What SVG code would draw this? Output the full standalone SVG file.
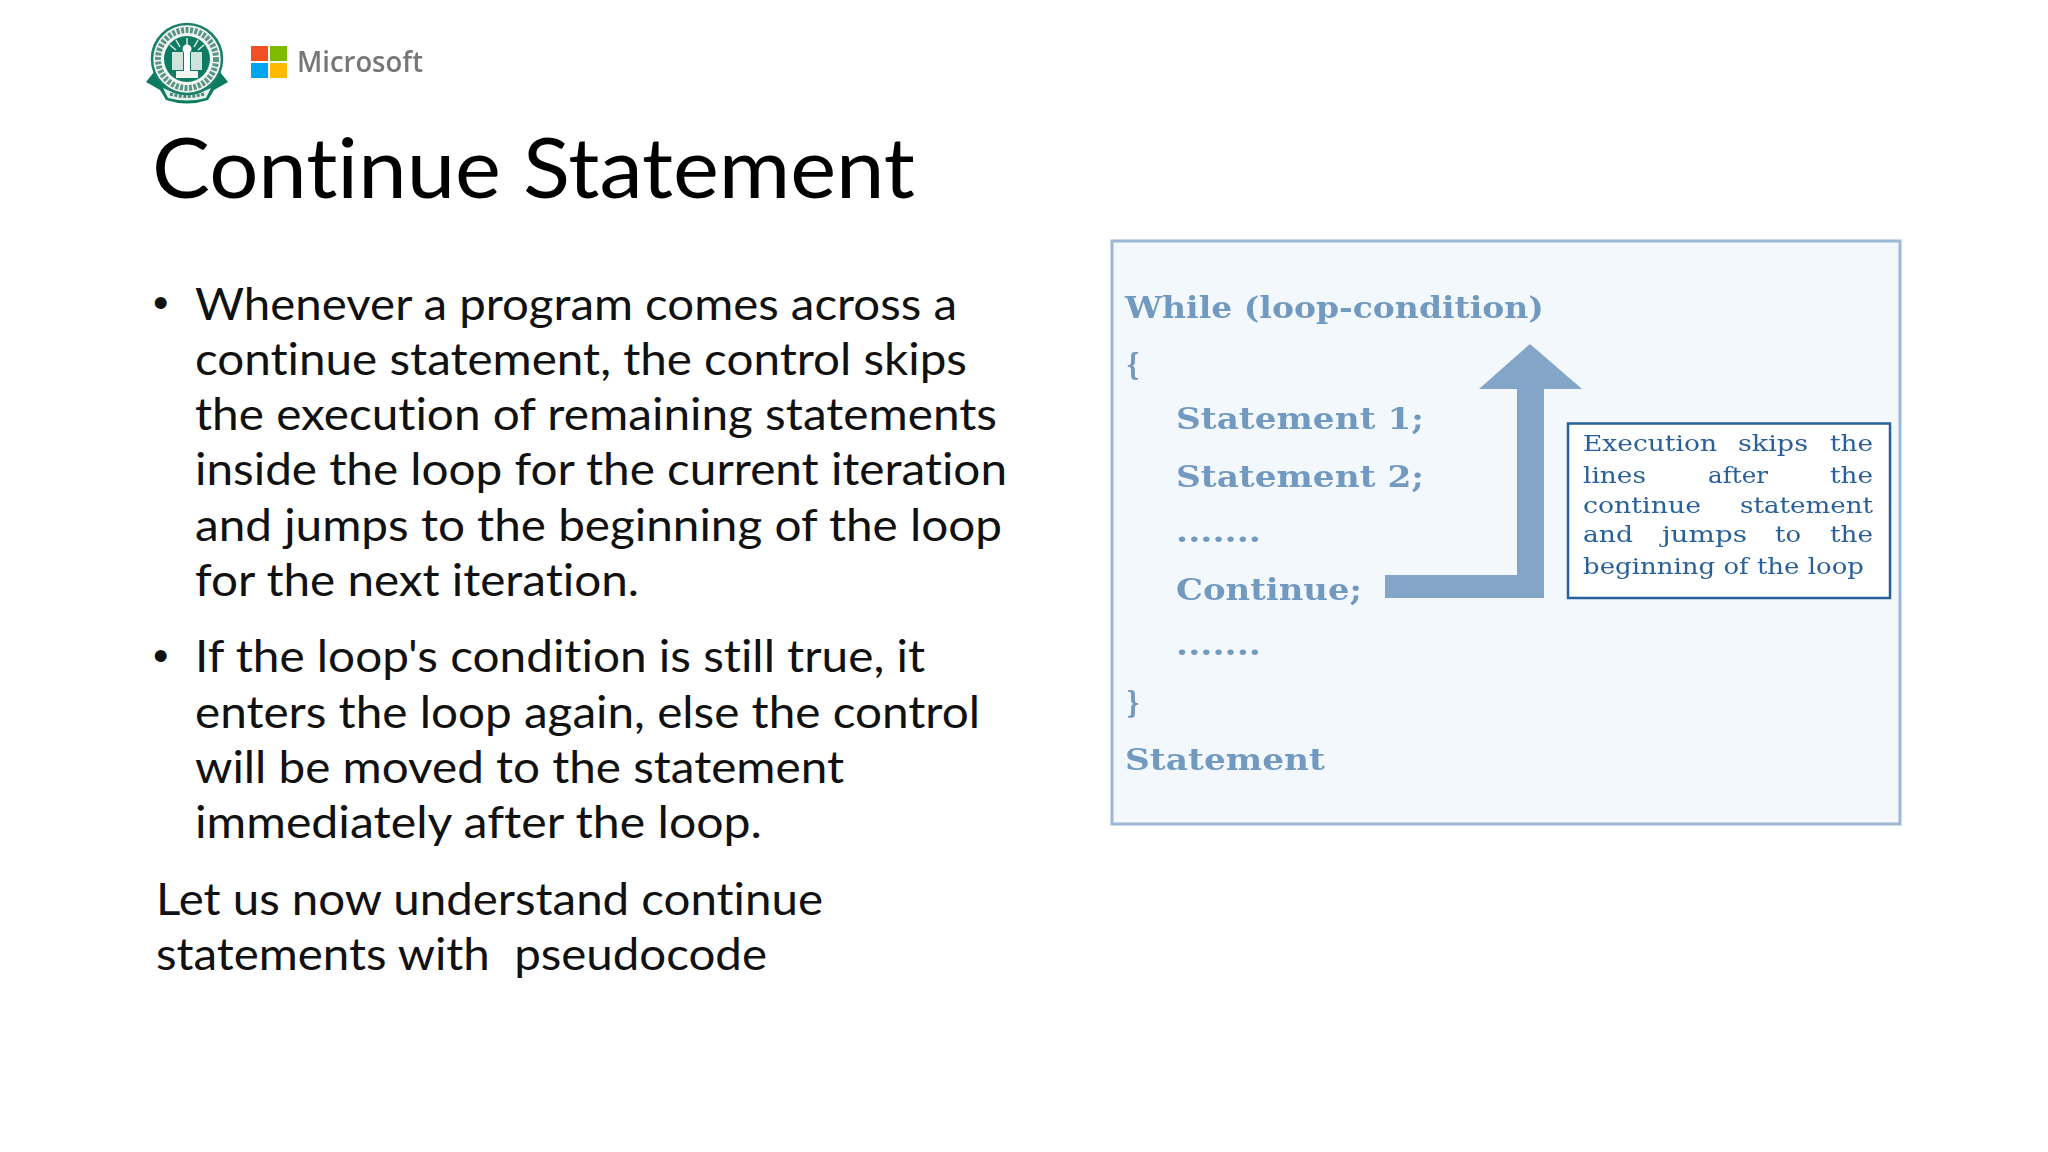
<svg xmlns="http://www.w3.org/2000/svg" width="2048" height="1152" viewBox="0 0 2048 1152">
<style>
text{white-space:pre;font-variant-ligatures:none}
.b{font-family:Lato,"Open Sans",sans-serif;font-size:44.5px;fill:#111}
.d{font-family:"Liberation Sans",sans-serif;font-size:44px;fill:#111}
.p{font-family:"DejaVu Serif","Liberation Serif",serif;font-weight:700;font-size:29px;fill:#7299c0}
.c{font-family:"DejaVu Serif","Liberation Serif",serif;font-size:23px;fill:#2a6099}
</style>
<defs><filter id="s" x="-5%" y="-5%" width="110%" height="110%"><feGaussianBlur stdDeviation="0.5"/></filter></defs>
<rect width="2048" height="1152" fill="#fff"/>
<g id="logos" filter="url(#s)">
<g id="emblem">
<path d="M154 72 L146 82 L160 90 L166 100 Q187 107 208 100 L214 90 L228 82 L220 72 L208 86 L166 86Z" fill="#0f7a62"/>
<path d="M163 88 Q187 100 211 88 L206 98 Q187 103 168 98Z" fill="#e6f0ec"/>
<path d="M170 94 Q187 99 204 94" fill="none" stroke="#4d8a78" stroke-width="3" stroke-dasharray="3 1.5"/>
<circle cx="187" cy="59" r="35" fill="#f1f6f3" stroke="#1a7f69" stroke-width="2.5"/>
<circle cx="187" cy="59" r="29" fill="none" stroke="#5c9585" stroke-width="6" stroke-dasharray="3 1.5"/>
<circle cx="187" cy="59" r="23" fill="#0f7a62"/>
<g stroke="#dfeee8" stroke-width="1.5"><path d="M187 46V38M180 47L176 40M194 47L198 40M176 50L170 45M198 50L204 45"/></g>
<rect x="172" y="52" width="11" height="18" fill="#cfe4dc"/><rect x="191" y="52" width="11" height="18" fill="#cfe4dc"/>
<path d="M184 50h6v24h-6z" fill="#fff"/>
<circle cx="187" cy="49" r="4.5" fill="#fff"/>
<rect x="176" y="71" width="22" height="7" fill="#f1f6f3"/>
</g>
<g id="microsoft">
<rect x="251" y="46" width="17" height="15" fill="#f25022"/>
<rect x="270" y="46" width="17" height="15" fill="#7fba00"/>
<rect x="251" y="63" width="17" height="15" fill="#00a4ef"/>
<rect x="270" y="63" width="17" height="15" fill="#ffb900"/>
<text x="297" y="72" font-family="Open Sans,sans-serif" font-weight="600" font-size="29" fill="#777" textLength="126" lengthAdjust="spacingAndGlyphs">Microsoft</text>
</g>
</g>
<text id="title" x="152" y="198" font-family="Lato,'Open Sans',sans-serif" font-size="84" fill="#000" textLength="763" lengthAdjust="spacingAndGlyphs">Continue Statement</text>
<g id="body">
<text class="d" x="153" y="318">•</text>
<text class="b" x="195" y="320" textLength="762" lengthAdjust="spacingAndGlyphs">Whenever a program comes across a</text>
<text class="b" x="195" y="375" textLength="772" lengthAdjust="spacingAndGlyphs">continue statement, the control skips</text>
<text class="b" x="195" y="430" textLength="802" lengthAdjust="spacingAndGlyphs">the execution of remaining statements</text>
<text class="b" x="195" y="485" textLength="812" lengthAdjust="spacingAndGlyphs">inside the loop for the current iteration</text>
<text class="b" x="195" y="541" textLength="807" lengthAdjust="spacingAndGlyphs">and jumps to the beginning of the loop</text>
<text class="b" x="195" y="596" textLength="444" lengthAdjust="spacingAndGlyphs">for the next iteration.</text>
<text class="d" x="153" y="671">•</text>
<text class="b" x="195" y="672" textLength="730" lengthAdjust="spacingAndGlyphs">If the loop's condition is still true, it</text>
<text class="b" x="195" y="728" textLength="785" lengthAdjust="spacingAndGlyphs">enters the loop again, else the control</text>
<text class="b" x="195" y="783" textLength="649" lengthAdjust="spacingAndGlyphs">will be moved to the statement</text>
<text class="b" x="195" y="838" textLength="567" lengthAdjust="spacingAndGlyphs">immediately after the loop.</text>
<text class="b" x="156" y="915" textLength="667" lengthAdjust="spacingAndGlyphs">Let us now understand continue</text>
<text class="b" x="156" y="970" textLength="611" lengthAdjust="spacingAndGlyphs">statements with  pseudocode</text>
</g>
<g id="panel">
<rect x="1112" y="241" width="788" height="583" fill="#f3f8fc" stroke="#9db8d4" stroke-width="3"/>
<g filter="url(#s)">
<text class="p" x="1125" y="318" textLength="419" lengthAdjust="spacingAndGlyphs">While (loop-condition)</text>
<text class="p" x="1126" y="375" textLength="14" lengthAdjust="spacingAndGlyphs">{</text>
<text class="p" x="1176" y="429" textLength="248" lengthAdjust="spacingAndGlyphs">Statement 1;</text>
<text class="p" x="1176" y="487" textLength="248" lengthAdjust="spacingAndGlyphs">Statement 2;</text>
<text class="p" x="1176" y="542" textLength="85" lengthAdjust="spacingAndGlyphs">.......</text>
<text class="p" x="1176" y="600" textLength="186" lengthAdjust="spacingAndGlyphs">Continue;</text>
<text class="p" x="1176" y="655" textLength="85" lengthAdjust="spacingAndGlyphs">.......</text>
<text class="p" x="1126" y="713" textLength="14" lengthAdjust="spacingAndGlyphs">}</text>
<text class="p" x="1125" y="770" textLength="200" lengthAdjust="spacingAndGlyphs">Statement</text>
</g>
<path id="arrow" d="M1530 344 L1582 389 L1544 389 L1544 598 L1385 598 L1385 575 L1517 575 L1517 389 L1479 389Z" fill="#82a5c8"/>
<g id="callout">
<rect x="1568" y="423.500" width="322" height="174.500" fill="#fff" stroke="#2a6099" stroke-width="2.500"/>
<g filter="url(#s)">
<text class="c" x="1583" y="451" textLength="134" lengthAdjust="spacingAndGlyphs">Execution</text>
<text class="c" x="1738" y="451" textLength="70" lengthAdjust="spacingAndGlyphs">skips</text>
<text class="c" x="1830" y="451" textLength="43" lengthAdjust="spacingAndGlyphs">the</text>
<text class="c" x="1583" y="483" textLength="63" lengthAdjust="spacingAndGlyphs">lines</text>
<text class="c" x="1708" y="483" textLength="60" lengthAdjust="spacingAndGlyphs">after</text>
<text class="c" x="1830" y="483" textLength="43" lengthAdjust="spacingAndGlyphs">the</text>
<text class="c" x="1583" y="513" textLength="118" lengthAdjust="spacingAndGlyphs">continue</text>
<text class="c" x="1740" y="513" textLength="133" lengthAdjust="spacingAndGlyphs">statement</text>
<text class="c" x="1583" y="542" textLength="50" lengthAdjust="spacingAndGlyphs">and</text>
<text class="c" x="1662" y="542" textLength="85" lengthAdjust="spacingAndGlyphs">jumps</text>
<text class="c" x="1775" y="542" textLength="26" lengthAdjust="spacingAndGlyphs">to</text>
<text class="c" x="1830" y="542" textLength="43" lengthAdjust="spacingAndGlyphs">the</text>
<text class="c" x="1583" y="574" textLength="281" lengthAdjust="spacingAndGlyphs">beginning of the loop</text>
</g>
</g>
</g>
</svg>
